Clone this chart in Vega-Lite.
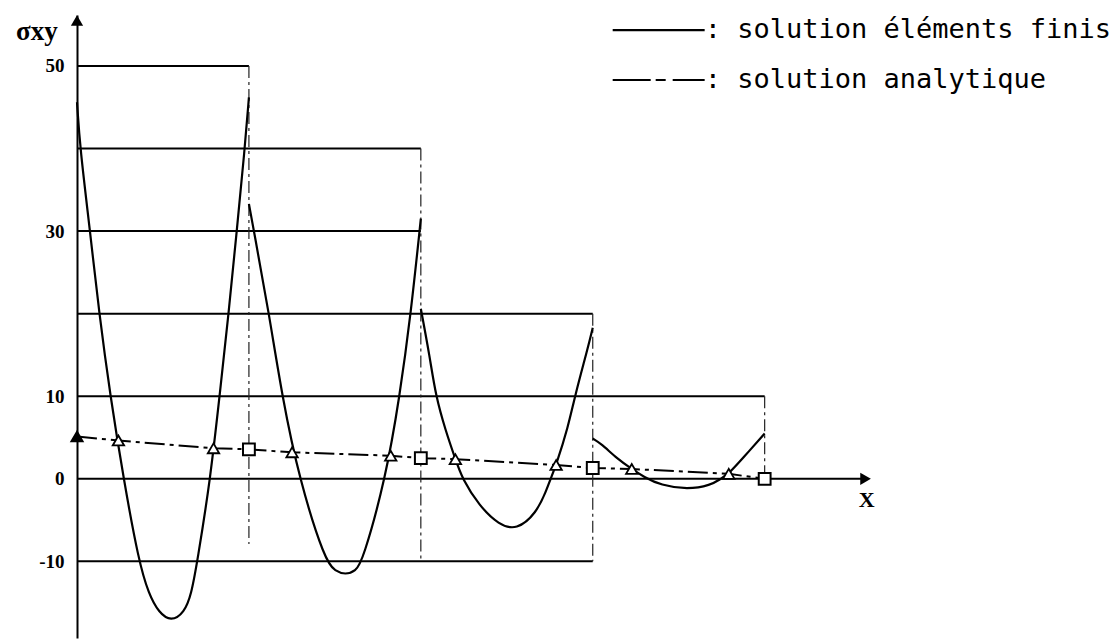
{
  "$schema": "https://vega.github.io/schema/vega-lite/v6.json",
  "width": 808,
  "height": 623,
  "autosize": "none",
  "padding": {"left": 77, "top": 15, "right": 235, "bottom": 2},
  "background": "white",
  "config": {"view": {"stroke": null}},
  "datasets": {
    "hgrid": [
      {"y": 50, "x": 0, "x2": 1},
      {"y": 40, "x": 0, "x2": 2},
      {"y": 30, "x": 0, "x2": 2},
      {"y": 20, "x": 0, "x2": 3},
      {"y": 10, "x": 0, "x2": 4},
      {"y": 0, "x": 0, "x2": 4.6},
      {"y": -10, "x": 0, "x2": 3}
    ],
    "vgrid": [
      {"x": 1, "y": 50, "y2": -7.9},
      {"x": 2, "y": 40, "y2": -10},
      {"x": 3, "y": 20, "y2": -10},
      {"x": 4, "y": 10, "y2": 0}
    ],
    "fe": [
      {"el": 1, "x": 0, "y": 45.6}, {"el": 1, "x": 0.018, "y": 40}, {"el": 1, "x": 0.076, "y": 30},
      {"el": 1, "x": 0.129, "y": 20}, {"el": 1, "x": 0.194, "y": 10}, {"el": 1, "x": 0.271, "y": 0},
      {"el": 1, "x": 0.359, "y": -10}, {"el": 1, "x": 0.418, "y": -14.0}, {"el": 1, "x": 0.476, "y": -16.2},
      {"el": 1, "x": 0.547, "y": -17.3}, {"el": 1, "x": 0.624, "y": -16.2}, {"el": 1, "x": 0.665, "y": -14.0},
      {"el": 1, "x": 0.7, "y": -10}, {"el": 1, "x": 0.776, "y": 0}, {"el": 1, "x": 0.829, "y": 10},
      {"el": 1, "x": 0.882, "y": 20}, {"el": 1, "x": 0.929, "y": 30}, {"el": 1, "x": 0.976, "y": 40},
      {"el": 1, "x": 1.0, "y": 46.2},
      {"el": 2, "x": 1.0, "y": 33.3}, {"el": 2, "x": 1.029, "y": 30}, {"el": 2, "x": 1.117, "y": 20},
      {"el": 2, "x": 1.193, "y": 10}, {"el": 2, "x": 1.292, "y": 0}, {"el": 2, "x": 1.444, "y": -10},
      {"el": 2, "x": 1.503, "y": -11.2}, {"el": 2, "x": 1.561, "y": -11.6}, {"el": 2, "x": 1.62, "y": -11.2},
      {"el": 2, "x": 1.661, "y": -10}, {"el": 2, "x": 1.795, "y": 0}, {"el": 2, "x": 1.877, "y": 10},
      {"el": 2, "x": 1.942, "y": 20}, {"el": 2, "x": 2.0, "y": 31.5},
      {"el": 3, "x": 2.0, "y": 20.6}, {"el": 3, "x": 2.052, "y": 14.8}, {"el": 3, "x": 2.086, "y": 10.1},
      {"el": 3, "x": 2.144, "y": 5.83}, {"el": 3, "x": 2.201, "y": 2.38}, {"el": 3, "x": 2.241, "y": 0},
      {"el": 3, "x": 2.339, "y": -3.25}, {"el": 3, "x": 2.454, "y": -5.58}, {"el": 3, "x": 2.557, "y": -6.23},
      {"el": 3, "x": 2.672, "y": -4.16}, {"el": 3, "x": 2.73, "y": -1.43}, {"el": 3, "x": 2.755, "y": 0},
      {"el": 3, "x": 2.787, "y": 1.67}, {"el": 3, "x": 2.856, "y": 6.19}, {"el": 3, "x": 2.897, "y": 10.1},
      {"el": 3, "x": 2.971, "y": 15.8}, {"el": 3, "x": 3.0, "y": 18.3},
      {"el": 4, "x": 3.0, "y": 4.88}, {"el": 4, "x": 3.047, "y": 4.29}, {"el": 4, "x": 3.145, "y": 2.38},
      {"el": 4, "x": 3.227, "y": 1.19}, {"el": 4, "x": 3.297, "y": 0.24}, {"el": 4, "x": 3.395, "y": -0.78},
      {"el": 4, "x": 3.552, "y": -1.3}, {"el": 4, "x": 3.686, "y": -0.78}, {"el": 4, "x": 3.744, "y": 0},
      {"el": 4, "x": 3.791, "y": 0.6}, {"el": 4, "x": 3.878, "y": 2.62}, {"el": 4, "x": 4.0, "y": 5.48}
    ],
    "analytic": [
      {"kind": "triangle", "x": 0, "y": 5.12},
      {"kind": "triangle", "x": 0.241, "y": 4.64},
      {"kind": "triangle", "x": 0.794, "y": 3.69},
      {"kind": "square", "x": 1, "y": 3.57},
      {"kind": "triangle", "x": 1.251, "y": 3.21},
      {"kind": "triangle", "x": 1.825, "y": 2.8},
      {"kind": "square", "x": 2, "y": 2.5},
      {"kind": "triangle", "x": 2.201, "y": 2.38},
      {"kind": "triangle", "x": 2.787, "y": 1.67},
      {"kind": "square", "x": 3, "y": 1.31},
      {"kind": "triangle", "x": 3.227, "y": 1.19},
      {"kind": "triangle", "x": 3.791, "y": 0.6},
      {"kind": "square", "x": 4, "y": 0}
    ],
    "arrows": [
      {"dir": "up", "x": 0, "y": 55.5},
      {"dir": "right", "x": 4.587, "y": 0}
    ],
    "axisnames": [
      {"axis": "y", "text": "σxy", "x": -0.233, "y": 53.1},
      {"axis": "x", "text": "X", "x": 4.593, "y": -3.4}
    ],
    "legend": [
      {"serie": "solution éléments finis", "x": 3.116, "x2": 3.651, "y": 54.35},
      {"serie": "solution analytique", "x": 3.116, "x2": 3.651, "y": 48.3}
    ]
  },
  "encoding": {
    "x": {"field": "x", "type": "quantitative", "scale": {"domain": [0, 4.7], "nice": false, "zero": false}, "axis": null},
    "y": {
      "field": "y", "type": "quantitative",
      "scale": {"domain": [-19.28, 56.17], "nice": false, "zero": false},
      "axis": {
        "values": [50, 30, 10, 0, -10],
        "title": null, "grid": false, "ticks": false,
        "domain": true, "domainColor": "black", "domainWidth": 2,
        "labelPadding": 13, "labelFont": "Liberation Serif", "labelFontWeight": "bold",
        "labelFontSize": 19, "labelColor": "black",
        "labelExpr": "datum.value < 0 ? '-10' : datum.label"
      }
    }
  },
  "layer": [
    {
      "data": {"name": "hgrid"},
      "mark": {"type": "rule", "color": "black", "strokeWidth": 2},
      "encoding": {"x2": {"field": "x2"}}
    },
    {
      "data": {"name": "vgrid"},
      "mark": {"type": "rule", "color": "#222222", "strokeWidth": 1.2, "strokeDash": [12, 4, 3, 4]},
      "encoding": {"y2": {"field": "y2"}}
    },
    {
      "data": {"name": "fe"},
      "mark": {"type": "line", "color": "black", "strokeWidth": 2.2, "interpolate": "basis"},
      "encoding": {"detail": {"field": "el", "type": "nominal"}}
    },
    {
      "data": {"name": "analytic"},
      "mark": {"type": "line", "color": "black", "strokeWidth": 2, "strokeDash": [20, 5, 4, 5]},
      "encoding": {}
    },
    {
      "data": {"name": "analytic"},
      "transform": [{"filter": "datum.kind == 'triangle'"}],
      "mark": {"type": "point", "shape": "triangle-up", "filled": true, "size": 130, "strokeWidth": 1.8, "stroke": "black", "opacity": 1},
      "encoding": {
        "fill": {"condition": {"test": "datum.x == 0", "value": "black"}, "value": "white"}
      }
    },
    {
      "data": {"name": "analytic"},
      "transform": [{"filter": "datum.kind == 'square'"}],
      "mark": {"type": "point", "shape": "square", "filled": true, "fill": "white", "size": 140, "strokeWidth": 2, "stroke": "black", "opacity": 1},
      "encoding": {}
    },
    {
      "data": {"name": "arrows"},
      "mark": {"type": "point", "filled": true, "color": "black", "size": 150, "opacity": 1},
      "encoding": {
        "shape": {"field": "dir", "type": "nominal", "scale": {"domain": ["up", "right"], "range": ["triangle-up", "triangle-right"]}, "legend": null}
      }
    },
    {
      "data": {"name": "axisnames"},
      "transform": [{"filter": "datum.axis == 'y'"}],
      "mark": {"type": "text", "font": "Liberation Serif", "fontWeight": "bold", "fontSize": 27, "align": "center", "baseline": "alphabetic", "color": "black"},
      "encoding": {"text": {"field": "text"}}
    },
    {
      "data": {"name": "axisnames"},
      "transform": [{"filter": "datum.axis == 'x'"}],
      "mark": {"type": "text", "font": "Liberation Serif", "fontWeight": "bold", "fontSize": 22, "align": "center", "baseline": "alphabetic", "color": "black"},
      "encoding": {"text": {"field": "text"}}
    },
    {
      "data": {"name": "legend"},
      "mark": {"type": "rule", "color": "black", "strokeWidth": 2.2},
      "encoding": {
        "x2": {"field": "x2"},
        "strokeDash": {"field": "serie", "type": "nominal", "scale": {"domain": ["solution éléments finis", "solution analytique"], "range": [[1, 0], [38, 5, 10, 7]]}, "legend": null}
      }
    },
    {
      "data": {"name": "legend"},
      "transform": [{"calculate": "': ' + datum.serie", "as": "label"}],
      "mark": {"type": "text", "font": "DejaVu Sans Mono", "fontSize": 27, "align": "left", "baseline": "middle", "color": "black"},
      "encoding": {"x": {"field": "x2", "type": "quantitative"}, "text": {"field": "label"}}
    }
  ]
}
